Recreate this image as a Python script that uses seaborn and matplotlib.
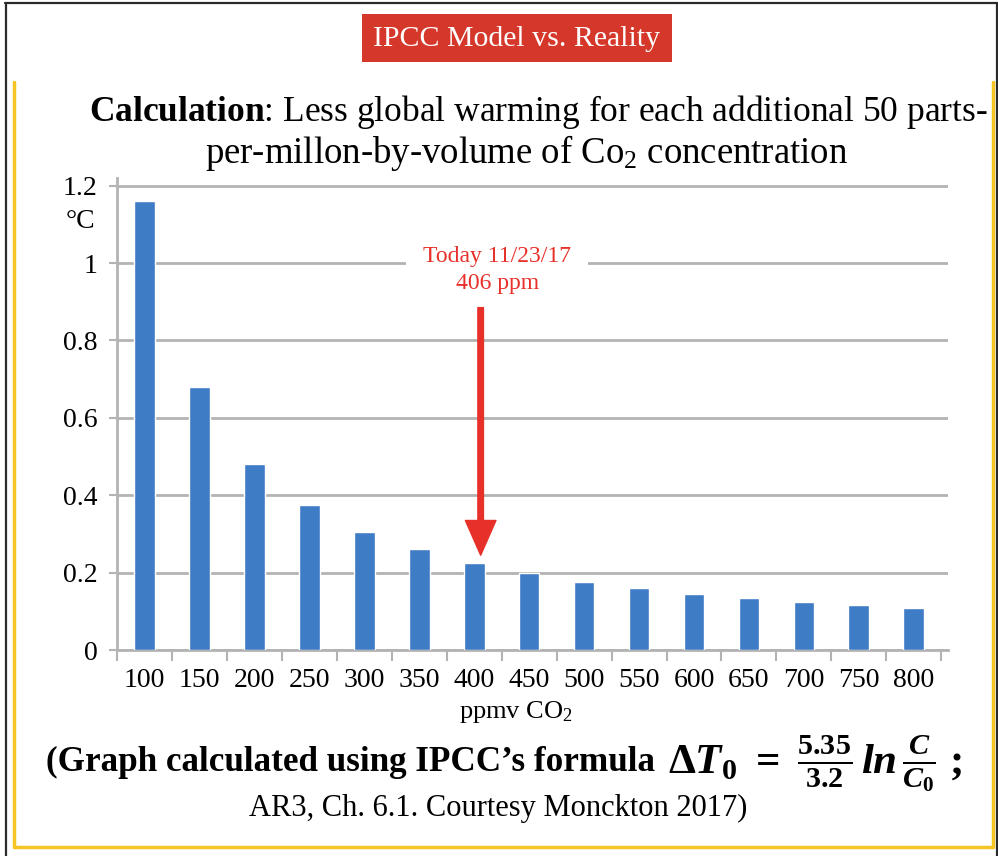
import matplotlib
matplotlib.use("Agg")
import matplotlib.pyplot as plt
import seaborn as sns
import pandas as pd
from matplotlib.lines import Line2D
from matplotlib.patches import Rectangle

# ---- data ----
ppmv = ["100", "150", "200", "250", "300", "350", "400", "450",
        "500", "550", "600", "650", "700", "750", "800"]
warming = [1.16, 0.68, 0.48, 0.375, 0.305, 0.26, 0.225, 0.198,
           0.177, 0.16, 0.146, 0.134, 0.125, 0.116, 0.109]
yticks = [0, 0.2, 0.4, 0.6, 0.8, 1.0, 1.2]
ytick_labels = ["0", "0.2", "0.4", "0.6", "0.8", "1", "1.2"]
today_ppm = 406

sns.set_theme(style="white")
plt.rcParams["font.family"] = ["Liberation Serif", "DejaVu Serif"]
plt.rcParams["text.color"] = "black"
plt.rcParams["xtick.color"] = "black"
plt.rcParams["ytick.color"] = "black"
plt.rcParams["mathtext.fontset"] = "custom"
plt.rcParams["mathtext.rm"] = "Liberation Serif"
plt.rcParams["mathtext.it"] = "Liberation Serif:italic:bold"
plt.rcParams["mathtext.bf"] = "Liberation Serif:bold"

W, H = 998, 856
fig = plt.figure(figsize=(W / 100, H / 100), dpi=100)
fig.patch.set_facecolor("white")


def fx(x):
    return x / W


def fy(y):
    return 1 - y / H


# axes placement (pixel based)
ax_left, ax_right, ax_top, ax_bottom = 116.7, 948, 178, 650
ax = fig.add_axes([fx(ax_left), fy(ax_bottom), (ax_right - ax_left) / W,
                   (ax_bottom - ax_top) / H])

df = pd.DataFrame({"ppmv": ppmv, "warming": warming})
sns.barplot(data=df, x="ppmv", y="warming", color="#3f7cc6", saturation=1,
            width=0.38, ax=ax, zorder=3)

grid_c = "#b3b3b3"
ax.set_ylim(0, 1.22)
ax.set_xlim(-0.5, 14.62)
ax.set_yticks(yticks)
ax.set_yticklabels(ytick_labels)
ax.yaxis.grid(True, color=grid_c, lw=2, zorder=0)
ax.xaxis.grid(False)
ax.set_axisbelow(True)
ax.set_xlabel("")
ax.set_ylabel("")
for s in ["top", "right"]:
    ax.spines[s].set_visible(False)
for s in ["left", "bottom"]:
    ax.spines[s].set_color(grid_c)
    ax.spines[s].set_linewidth(2)
ax.tick_params(axis="y", left=True, length=6, width=1.5, color=grid_c,
               labelsize=20, pad=8, labelcolor="black")
ax.set_xticks(range(len(ppmv)))
ax.set_xticklabels(ppmv)
ax.tick_params(axis="x", which="major", length=0, labelsize=20, pad=13,
               labelcolor="black")
ax.set_xticks([i - 0.5 for i in range(len(ppmv) + 1)], minor=True)
ax.tick_params(axis="x", which="minor", bottom=True, length=8, width=1.5,
               color=grid_c)

# today annotation
red = "#e8302a"
xpos = ppmv.index("400") + (today_ppm - 400) / 50
ax.text(xpos + 0.3, 0.982, "Today 11/23/17\n406 ppm", ha="center", va="center",
        color=red, fontsize=17, linespacing=1.35, zorder=5,
        bbox=dict(facecolor="white", edgecolor="none", pad=12))
ax.annotate("", xy=(xpos, 0.245), xytext=(xpos, 0.885),
            arrowprops=dict(arrowstyle="simple,head_length=1.25,head_width=1.1,tail_width=0.2",
                            color=red, shrinkA=0, shrinkB=0, mutation_scale=20),
            zorder=6)

# degree label
fig.text(fx(80), fy(222), "°C", ha="center", va="center", fontsize=20)
# x-axis title
fig.text(fx(516), fy(712), "ppmv CO$_2$", ha="center", va="center", fontsize=19)

# title
fig.text(fx(538), fy(112), r"$\mathbf{Calculation}$: Less global warming for each additional 50 parts-",
         ha="center", va="center", fontsize=25.5)
fig.text(fx(527), fy(153), "per-millon-by-volume of Co$_2$ concentration",
         ha="center", va="center", fontsize=26.5)

# bottom text
fig.text(fx(655), fy(762), "(Graph calculated using IPCC’s formula",
         ha="right", va="center", fontsize=25.3, fontweight="bold")
fig.text(fx(668), fy(764),
         r"$\mathbf{\Delta} T_{\mathbf{0}}\ \mathbf{=}\ \frac{\mathbf{5.35}}{\mathbf{3.2}}\,ln\,\frac{C}{C_{\mathbf{0}}}$ ;",
         ha="left", va="center", fontsize=31, fontweight="bold")
fig.text(fx(498), fy(808), "AR3, Ch. 6.1. Courtesy Monckton 2017)",
         ha="center", va="center", fontsize=22)

# red title badge
fig.add_artist(Rectangle((fx(362), fy(62)), (672 - 362) / W, (62 - 14) / H,
                         transform=fig.transFigure, facecolor="#d5382a",
                         edgecolor="none"))
fig.text(fx(517), fy(39), "IPCC Model vs. Reality", ha="center", va="center",
         fontsize=21.5, color="white")

# frames
gold = "#f5c524"
for xs, ys in [([14, 14], [82, 847]), ([14, 993], [847, 847]),
               ([993, 993], [82, 847])]:
    fig.add_artist(Line2D([fx(v) for v in xs], [fy(v) for v in ys],
                          transform=fig.transFigure, color=gold, lw=2.5))
dark = "#2a2a2a"
for xs, ys in [([6, 6], [3, 856]), ([5, 997], [3, 3]), ([997, 997], [3, 856])]:
    fig.add_artist(Line2D([fx(v) for v in xs], [fy(v) for v in ys],
                          transform=fig.transFigure, color=dark, lw=1.6))

fig.savefig("out.png", dpi=100)
